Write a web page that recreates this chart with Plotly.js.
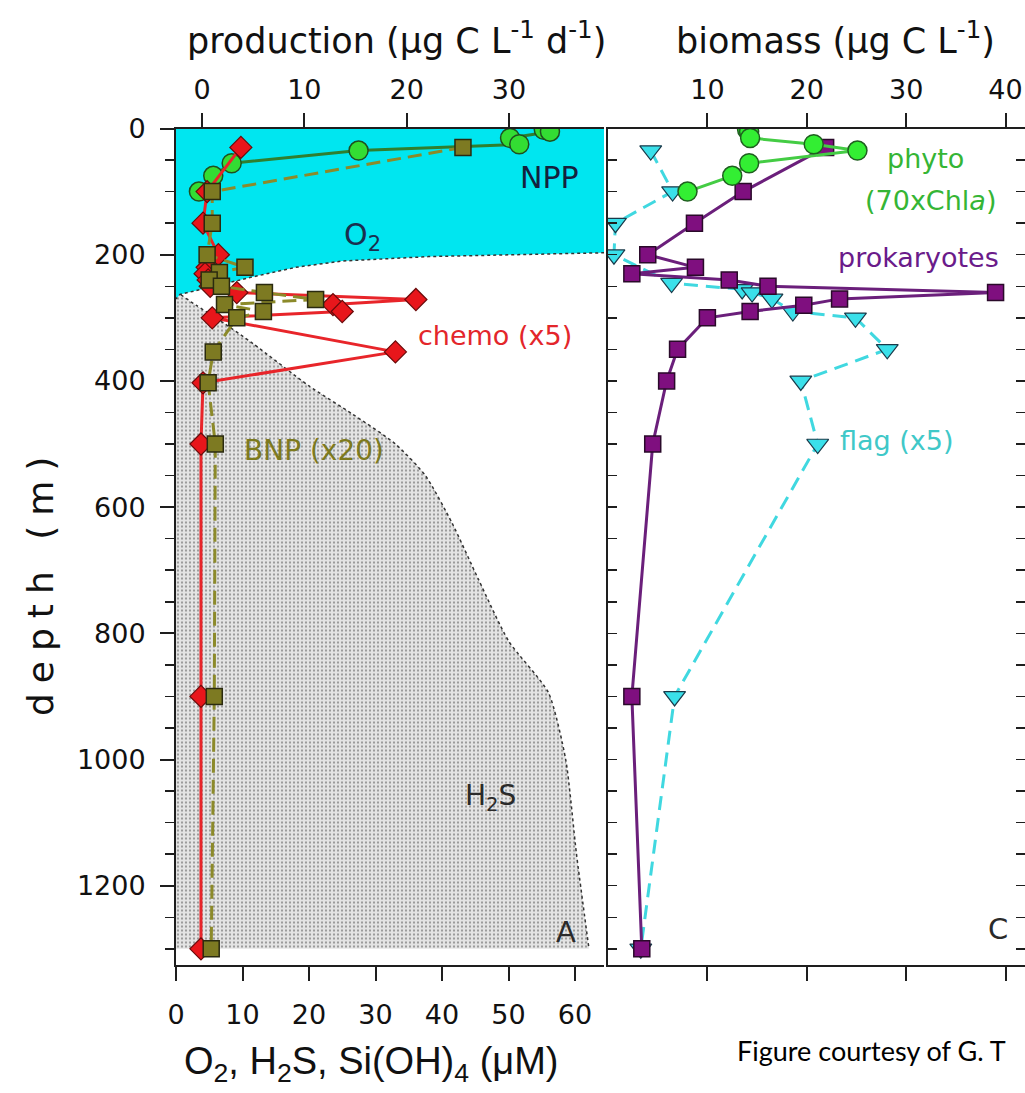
<!DOCTYPE html>
<html>
<head>
<meta charset="utf-8">
<script src="https://cdn.plot.ly/plotly-3.0.1.min.js"></script>
<style>html,body{margin:0;padding:0;background:#fff;}#chart{width:1025px;height:1093px;}</style>
</head>
<body>
<div id="chart"></div>
<script>
// ---------- data ----------
// left panel: production (ug C L-1 d-1) vs depth (m)
const nppDepth = [2, 5, 15, 25, 35, 55, 75, 100];
const nppProd  = [33.4, 34.0, 30.1, 31.0, 15.3, 2.9, 1.1, -0.3];

const chemoDepth = [30, 100, 150, 200, 220, 230, 240, 250, 260, 271, 279, 290, 300, 354, 403, 500, 900, 1300];
const chemoProd  = [3.8, 0.5, 0.1, 1.6, 0.5, 0.3, 0.6, 0.8, 3.4, 20.9, 12.8, 13.7, 1.0, 18.9, 0.1, -0.1, -0.1, -0.1];

const bnpDepth = [30, 100, 150, 200, 220, 228, 240, 250, 260, 271, 279, 290, 300, 354, 403, 500, 900, 1300];
const bnpProd  = [25.5, 1.0, 1.0, 0.5, 4.2, 1.7, 0.7, 1.9, 6.1, 11.1, 2.2, 6.0, 3.4, 1.1, 0.6, 1.3, 1.2, 0.9];

// left panel background: O2 and H2S (uM) vs depth
const o2Depth = [0, 100, 150, 190, 197, 203, 210, 220, 235, 250, 263, 270];
const o2Conc  = [240, 225, 160, 90, 64, 38, 25, 18, 11.6, 5.6, 0.6, 0];

const h2sDepth = [258, 280, 300, 341, 408, 453, 500, 550, 625, 715, 812, 894, 1000, 1148, 1300];
const h2sConc  = [0, 3, 6, 11.6, 20, 26.6, 33, 37.5, 41.5, 45.5, 50, 56, 58.6, 60.2, 62.1];

// right panel: biomass (ug C L-1) vs depth
const phytoDepth = [2, 5, 15, 25, 35, 55, 75, 100];
const phytoBio   = [14.0, 14.2, 14.3, 20.7, 25.1, 14.2, 12.5, 8.0];

const prokDepth = [30, 100, 150, 200, 220, 230, 240, 250, 260, 270, 280, 290, 300, 350, 400, 500, 900, 1300];
const prokBio   = [21.9, 13.6, 8.7, 4.0, 8.8, 2.4, 12.2, 16.1, 39.0, 23.3, 19.7, 14.3, 10.0, 7.0, 5.9, 4.5, 2.4, 3.4];

const flagDepth = [35, 100, 150, 200, 245, 255, 260, 270, 290, 300, 350, 400, 500, 900, 1300];
const flagBio   = [4.3, 6.5, 0.75, 0.6, 6.4, 13.5, 14.5, 16.5, 18.6, 24.9, 28.1, 19.4, 21.1, 6.7, 3.3];

// tick labels
const concTicks = [0, 10, 20, 30, 40, 50, 60];
const prodTicks = [0, 10, 20, 30];
const bioTicks  = [10, 20, 30, 40];
const depthTicks = [0, 200, 400, 600, 800, 1000, 1200];

// ---------- layout helpers ----------
const W = 1025, H = 1093;
const px = x => x / W;
const py = y => 1 - y / H;
const FONT = 'DejaVu Sans';
const INK = '#1e1e1e';

const traces = [
  { x: h2sConc, y: h2sDepth, xaxis: 'x', yaxis: 'y', mode: 'lines', fill: 'tozerox',
    fillcolor: '#e0e0e0',
    fillpattern: { shape: '.', size: 4, solidity: 0.22, fgcolor: '#8a8a8a', bgcolor: '#e4e4e4' },
    line: { color: '#333', width: 1.5, dash: 'dot', shape: 'spline', smoothing: 0.6 }, hoverinfo: 'skip', showlegend: false },
  { x: o2Conc, y: o2Depth, xaxis: 'x', yaxis: 'y', mode: 'lines', fill: 'tozerox',
    fillcolor: '#00e6f0', line: { color: '#333', width: 1.5, dash: 'dot' }, hoverinfo: 'skip', showlegend: false },
  { x: nppProd, y: nppDepth, xaxis: 'x2', yaxis: 'y', mode: 'lines+markers', name: 'NPP',
    line: { color: '#2f7f2f', width: 3 },
    marker: { symbol: 'circle', size: 19, color: '#33dd33', line: { color: '#1f4f1f', width: 1.5 } } },
  { x: chemoProd, y: chemoDepth, xaxis: 'x2', yaxis: 'y', mode: 'lines+markers', name: 'chemo (x5)',
    line: { color: '#e8252a', width: 3 },
    marker: { symbol: 'diamond', size: 17, color: '#e8161b', line: { color: '#6a0a0a', width: 1.2 } } },
  { x: bnpProd, y: bnpDepth, xaxis: 'x2', yaxis: 'y', mode: 'lines+markers', name: 'BNP (x20)',
    line: { color: '#8c8a2a', width: 3, dash: '14px,7px' },
    marker: { symbol: 'square', size: 16, color: '#7d7a22', line: { color: '#2a2a10', width: 1.5 } } },
  { x: flagBio, y: flagDepth, xaxis: 'x3', yaxis: 'y4', mode: 'lines+markers', name: 'flag (x5)',
    line: { color: '#40d8e0', width: 3, dash: '14px,8px' },
    marker: { symbol: 'triangle-down', size: 19, color: '#3ae0ea', line: { color: '#1a3a4a', width: 1.2 } } },
  { x: prokBio, y: prokDepth, xaxis: 'x3', yaxis: 'y4', mode: 'lines+markers', name: 'prokaryotes',
    line: { color: '#6b1f7b', width: 3 },
    marker: { symbol: 'square', size: 16, color: '#7f0f7f', line: { color: '#2a0a2a', width: 1.5 } } },
  { x: phytoBio, y: phytoDepth, xaxis: 'x3', yaxis: 'y4', mode: 'lines+markers', name: 'phyto',
    line: { color: '#44cc44', width: 3 },
    marker: { symbol: 'circle', size: 19, color: '#33ee33', line: { color: '#1f5f1f', width: 1.5 } } }
];

const axBase = {
  showgrid: false, zeroline: false, showline: true, linewidth: 2, linecolor: INK,
  tickcolor: INK, tickwidth: 2, tickfont: { family: FONT, size: 27, color: '#111' }
};
const depthRange = [1325.6, 0];
const yDom = [py(965), py(128.5)];

const layout = {
  width: W, height: H, margin: { l: 0, r: 0, t: 0, b: 0 },
  paper_bgcolor: '#fff', plot_bgcolor: 'rgba(0,0,0,0)', showlegend: false,
  font: { family: FONT, color: '#111' },
  xaxis: Object.assign({}, axBase, { domain: [px(176), px(604)], range: [0, 64.36], anchor: 'y', side: 'bottom',
    tickmode: 'array', tickvals: concTicks, ticks: 'outside', ticklen: 14, ticklabelstandoff: 11 }),
  xaxis2: Object.assign({}, axBase, { overlaying: 'x', anchor: 'y', side: 'top', range: [-2.54, 39.28],
    tickmode: 'array', tickvals: prodTicks, ticks: 'outside', ticklen: 14, ticklabelstandoff: 3 }),
  yaxis: Object.assign({}, axBase, { domain: yDom, range: depthRange, anchor: 'x', side: 'left',
    tickmode: 'array', tickvals: depthTicks, ticks: 'outside', ticklen: 14, ticklabelstandoff: 9,
    minor: { tickmode: 'linear', tick0: 0, dtick: 50, ticks: 'outside', ticklen: 9, tickwidth: 1.5, tickcolor: INK } }),
  yaxis3: Object.assign({}, axBase, { overlaying: 'y', anchor: 'x', side: 'right', range: depthRange,
    tickmode: 'linear', tick0: 0, dtick: 50, ticks: 'inside', ticklen: 9, tickwidth: 1.5, showticklabels: false }),
  xaxis3: Object.assign({}, axBase, { domain: [px(608), 1], range: [0, 41.96], anchor: 'y4', side: 'top',
    tickmode: 'array', tickvals: bioTicks, ticks: 'outside', ticklen: 14, mirror: 'ticks', ticklabelstandoff: 3 }),
  yaxis4: Object.assign({}, axBase, { domain: yDom, range: depthRange, anchor: 'x3', side: 'left',
    tickmode: 'linear', tick0: 0, dtick: 50, ticks: 'inside', ticklen: 9, tickwidth: 1.5, mirror: 'ticks',
    showticklabels: false }),
  annotations: [
    { text: 'production (μg C L<sup>-1</sup> d<sup>-1</sup>)', x: px(396), y: py(38), font: { size: 35, color: '#111' } },
    { text: 'biomass (μg C L<sup>-1</sup>)', x: px(835), y: py(38), font: { size: 35, color: '#111' } },
    { text: 'O<sub>2</sub>, H<sub>2</sub>S, Si(OH)<sub>4</sub> (μM)', x: px(371), y: py(1064),
      font: { family: 'Liberation Sans', size: 38, color: '#111' } },
    { text: '<span style="letter-spacing:10px">depth (m)</span>', x: px(40), y: py(582), textangle: -90,
      font: { size: 36, color: '#111' } },
    { text: 'NPP', x: px(549), y: py(177), font: { size: 30, color: '#14213d' } },
    { text: 'O<sub>2</sub>', x: px(362), y: py(236), font: { size: 30, color: '#1a2f4f' } },
    { text: 'chemo (x5)', x: px(495), y: py(336), font: { size: 27, color: '#e3262b' } },
    { text: 'BNP (x20)', x: px(314), y: py(450), font: { size: 28, color: '#7d7a1e' } },
    { text: 'H<sub>2</sub>S', x: px(490), y: py(797), font: { size: 28, color: '#2a2a2a' } },
    { text: 'A', x: px(566), y: py(932), font: { size: 29, color: '#2a2a2a' } },
    { text: 'phyto', x: px(925), y: py(158), font: { size: 27, color: '#35b535' } },
    { text: '(70xChl<i>a</i>)', x: px(930), y: py(200), font: { size: 27, color: '#35b535' } },
    { text: 'prokaryotes', x: px(918), y: py(257), font: { size: 27, color: '#6a1b8a' } },
    { text: 'flag (x5)', x: px(897), y: py(440), font: { size: 27, color: '#40c8c8' } },
    { text: 'C', x: px(998), y: py(929), font: { size: 29, color: '#2a2a2a' } },
    { text: 'Figure courtesy of G. T', x: px(735), y: py(1050), xanchor: 'left',
      font: { family: 'Lato', size: 27, color: '#000' } }
  ].map(a => Object.assign({ xref: 'paper', yref: 'paper', showarrow: false, xanchor: 'center', yanchor: 'middle' }, a))
};

Plotly.newPlot('chart', traces, layout, { staticPlot: true, displayModeBar: false });
</script>
</body>
</html>
